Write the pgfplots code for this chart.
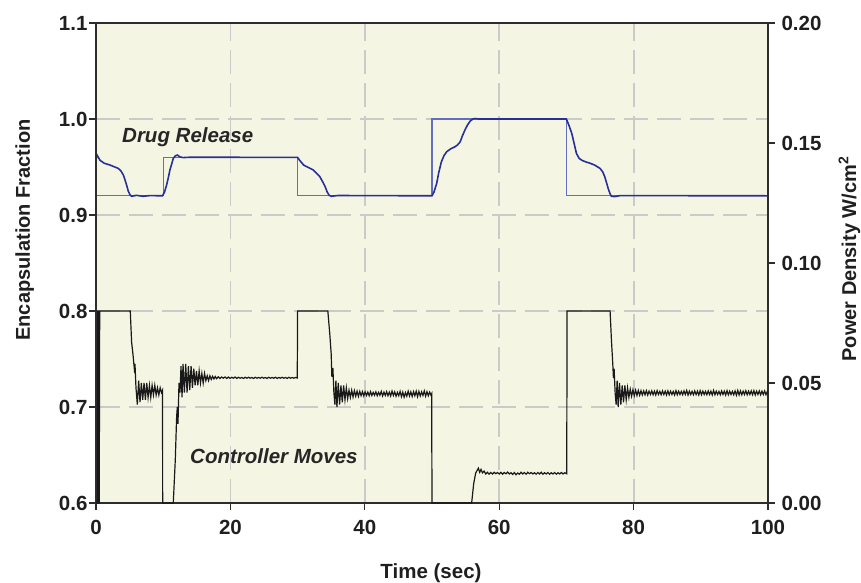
\documentclass[border=0pt]{standalone}
\usepackage{pgfplots}
\usepackage{pgfplotstable}
\pgfplotsset{compat=1.18}
\usepackage{fontspec}
\setmainfont{Liberation Sans}
\definecolor{cream}{RGB}{245,245,228}
\definecolor{gridgray}{RGB}{202,202,200}
\definecolor{resp}{RGB}{40,48,150}
\definecolor{setp}{RGB}{100,110,192}
\definecolor{ctrl}{RGB}{25,25,25}
\definecolor{spine}{RGB}{45,45,45}

\pgfplotstableread{
t p
0 0
0.2 0
0.25 0.08
0.35 0.08
0.4 0
0.48 0
0.55 0.08
5.1 0.08
5.3 0.067
5.5 0.062
5.7 0.056
5.8 0.058
5.95 0.048
6.15 0.041
6.35 0.051
6.55 0.042
6.75 0.050
6.95 0.043
7.15 0.050
7.35 0.043
7.55 0.050
7.75 0.044
7.95 0.049
8.15 0.044
8.35 0.049
8.55 0.045
8.75 0.049
8.95 0.045
9.15 0.048
9.35 0.045
9.55 0.048
9.75 0.046
9.9 0.047
9.92 0
11.5 0
11.8 0.018
12.0 0.036
12.1 0.040
12.2 0.033
12.35 0.050
12.5 0.046
12.65 0.057
12.8 0.044
12.95 0.058
13.15 0.046
13.35 0.058
13.55 0.046
13.75 0.057
13.95 0.047
14.15 0.057
14.35 0.048
14.55 0.056
14.75 0.049
14.95 0.055
15.15 0.049
15.35 0.055
15.55 0.050
15.75 0.054
15.95 0.050
16.15 0.054
16.35 0.051
16.55 0.053
16.75 0.051
16.95 0.053
17.15 0.0515
17.35 0.0528
17.55 0.0517
17.75 0.0527
17.95 0.0518
18.2 0.0526
18.45 0.0519
18.7 0.0525
18.95 0.0520
19.2 0.0525
19.45 0.0519
19.7 0.0525
19.95 0.0519
20.2 0.0524
20.45 0.0520
20.7 0.0525
20.95 0.0519
21.2 0.0524
21.45 0.0520
21.7 0.0523
21.95 0.0519
22.2 0.0524
22.45 0.0520
22.7 0.0524
22.95 0.0520
23.2 0.0523
23.45 0.0519
23.7 0.0524
23.95 0.0520
24.2 0.0523
24.45 0.0520
24.7 0.0524
24.95 0.0520
25.2 0.0523
25.45 0.0519
25.7 0.0524
25.95 0.0520
26.2 0.0523
26.45 0.0520
26.7 0.0524
26.95 0.0519
27.2 0.0523
27.45 0.0520
27.7 0.0524
27.95 0.0520
28.2 0.0523
28.45 0.0519
28.7 0.0524
28.95 0.0520
29.2 0.0523
29.45 0.0520
29.7 0.0523
29.95 0.0521
30.0 0.08
34.5 0.08
34.8 0.070
35.0 0.062
35.1 0.0526
35.25 0.0563
35.4 0.046
35.55 0.041
35.7 0.051
35.85 0.040
36.05 0.050
36.25 0.041
36.45 0.049
36.65 0.042
36.85 0.049
37.05 0.043
37.25 0.048
37.45 0.0435
37.65 0.047
37.85 0.0440
38.05 0.0470
38.25 0.0442
38.45 0.0468
38.65 0.0445
38.85 0.0466
39.05 0.0444
39.25 0.0465
39.45 0.0447
39.65 0.0464
39.85 0.0446
40.05 0.0463
40.25 0.0448
40.45 0.0462
40.65 0.0447
40.85 0.0464
41.05 0.0448
41.25 0.0461
41.45 0.0449
41.65 0.0463
41.85 0.0447
42.05 0.0461
42.25 0.0449
42.45 0.0465
42.65 0.0446
42.85 0.0462
43.05 0.0448
43.25 0.0464
43.45 0.0447
43.65 0.0462
43.85 0.0446
44.05 0.0466
44.25 0.0448
44.45 0.0463
44.65 0.0445
44.85 0.0461
45.05 0.0447
45.25 0.0465
45.45 0.0443
45.65 0.0462
45.85 0.0441
46.05 0.0460
46.25 0.0445
46.45 0.0466
46.65 0.0446
46.85 0.0463
47.05 0.0444
47.25 0.0464
47.45 0.0447
47.65 0.0466
47.85 0.0443
48.05 0.0465
48.25 0.0446
48.45 0.0463
48.65 0.0448
48.85 0.0467
49.05 0.0445
49.25 0.0464
49.45 0.0447
49.65 0.0462
49.85 0.0449
49.95 0.0455
50.0 0
55.9 0
56.2 0.008
56.5 0.0125
56.7 0.0135
56.9 0.0145
57.1 0.0128
57.3 0.0140
57.5 0.0126
57.75 0.0133
58.0 0.0121
58.25 0.0128
58.5 0.0120
58.75 0.0127
59.0 0.0121
59.25 0.0128
59.5 0.0122
59.75 0.0127
60.0 0.0121
60.25 0.0128
60.5 0.0120
60.75 0.0127
61.0 0.0122
61.25 0.0129
61.5 0.0121
61.75 0.0126
62.0 0.0119
62.25 0.0127
62.5 0.0118
62.75 0.0125
63.0 0.0120
63.25 0.0128
63.5 0.0121
63.75 0.0127
64.0 0.0120
64.25 0.0128
64.5 0.0122
64.75 0.0127
65.0 0.0121
65.25 0.0126
65.5 0.0120
65.75 0.0127
66.0 0.0121
66.25 0.0128
66.5 0.0120
66.75 0.0126
67.0 0.0121
67.25 0.0127
67.5 0.0120
67.75 0.0126
68.0 0.0121
68.25 0.0127
68.5 0.0120
68.75 0.0126
69.0 0.0121
69.25 0.0127
69.5 0.0121
69.75 0.0126
70.05 0.0122
70.1 0.08
76.5 0.08
76.7 0.068
76.9 0.058
77.0 0.052
77.1 0.056
77.25 0.046
77.4 0.041
77.55 0.051
77.7 0.040
77.9 0.050
78.1 0.041
78.3 0.049
78.5 0.042
78.7 0.049
78.9 0.043
79.1 0.048
79.3 0.044
79.5 0.0474
79.7 0.0445
79.9 0.0472
80.1 0.0447
80.3 0.0470
80.5 0.0448
80.7 0.0469
80.9 0.0449
81.1 0.0468
81.3 0.0450
81.5 0.0467
81.7 0.0451
81.9 0.0468
82.1 0.0450
82.3 0.0466
82.5 0.0452
82.7 0.0467
82.9 0.0451
83.1 0.0466
83.3 0.0450
83.5 0.0468
83.7 0.0452
83.9 0.0465
84.1 0.0451
84.3 0.0467
84.5 0.0452
84.7 0.0466
84.9 0.0450
85.1 0.0467
85.3 0.0451
85.5 0.0466
85.7 0.0452
85.9 0.0465
86.1 0.0450
86.3 0.0468
86.5 0.0451
86.7 0.0466
86.9 0.0452
87.1 0.0465
87.3 0.0451
87.5 0.0467
87.7 0.0452
87.9 0.0469
88.1 0.0450
88.3 0.0466
88.5 0.0452
88.7 0.0465
88.9 0.0451
89.1 0.0467
89.3 0.0452
89.5 0.0466
89.7 0.0450
89.9 0.0468
90.1 0.0451
90.3 0.0466
90.5 0.0452
90.7 0.0465
90.9 0.0451
91.1 0.0467
91.3 0.0452
91.5 0.0466
91.7 0.0450
91.9 0.0469
92.1 0.0451
92.3 0.0466
92.5 0.0452
92.7 0.0465
92.9 0.0451
93.1 0.0467
93.3 0.0452
93.5 0.0466
93.7 0.0450
93.9 0.0468
94.1 0.0451
94.3 0.0466
94.5 0.0452
94.7 0.0465
94.9 0.0451
95.1 0.0467
95.3 0.0449
95.5 0.0469
95.7 0.0450
95.9 0.0467
96.1 0.0451
96.3 0.0466
96.5 0.0452
96.7 0.0468
96.9 0.0451
97.1 0.0466
97.3 0.0452
97.5 0.0467
97.7 0.0451
97.9 0.0468
98.1 0.0450
98.3 0.0466
98.5 0.0452
98.7 0.0467
98.9 0.0451
99.1 0.0466
99.3 0.0452
99.5 0.0467
99.7 0.0451
99.9 0.0465
100 0.0459
}\ctrltable

\pgfplotsset{
  common/.style={
    scale only axis, width=672pt, height=480pt,
    xmin=0, xmax=100,
    axis line style={spine, line width=1.2pt},
    tick style={spine, line width=1.1pt},
    tick align=outside, major tick length=7pt,
    tick label style={font=\fontsize{20.5}{20.5}\selectfont\bfseries, text=black!88},
    /pgf/number format/assume math mode=true,
  }
}

\begin{document}
\begin{tikzpicture}
\begin{axis}[common,
  ymin=0.6, ymax=1.1,
  ytick={0.6,0.7,0.8,0.9,1.0,1.1},
  yticklabel style={xshift=2pt, /pgf/number format/.cd, fixed, fixed zerofill, precision=1},
  xticklabel style={yshift=-7pt},
  xtick={0,20,40,60,80,100},
  xtick pos=bottom, ytick pos=left,
  grid=major,
  major grid style={gridgray, line width=1.8pt, dash pattern=on 24pt off 9pt},
  axis background/.style={fill=cream},
]
\addplot[setp, line width=1.1pt] coordinates {
(0,0.92) (10,0.92) (10,0.96) (30,0.96) (30,0.92) (50,0.92) (50,1.0) (70,1.0) (70,0.92) (100,0.92)};
\addplot[resp, line width=1.6pt] coordinates {
(0,0.958) (0.15,0.9625) (0.6,0.957) (1.2,0.954) (2.1,0.952) (2.8,0.950) (3.3,0.9486) (3.7,0.946)
(4.07,0.9417) (4.3,0.937) (4.56,0.931) (4.8,0.925) (5.06,0.921) (5.3,0.9195) (6,0.9205) (7,0.9195)
(8,0.9202) (9.9,0.92) (10.2,0.924) (10.5,0.931) (10.8,0.940) (11,0.9469) (11.3,0.954) (11.5,0.959)
(11.8,0.9615) (12.1,0.9625) (12.5,0.9605) (13,0.9598) (14,0.9602) (30,0.96)
(30.3,0.957) (30.9,0.952) (31.6,0.9495) (32.3,0.947) (32.9,0.943) (33.3,0.940) (33.7,0.935)
(34.1,0.9295) (34.4,0.924) (34.7,0.9205) (35,0.9195) (36,0.9203) (50,0.92)
(50.3,0.924) (50.7,0.933) (51.0,0.944) (51.4,0.9555) (51.8,0.962) (52.2,0.966) (52.8,0.969)
(53.4,0.971) (53.8,0.973) (54.2,0.9763) (54.5,0.982) (54.9,0.9885) (55.3,0.994) (55.7,0.998)
(56.1,1.0) (56.4,1.0005) (57,1.0) (70,1.0)
(70.4,0.993) (70.8,0.985) (71.2,0.973) (71.5,0.964) (71.9,0.959) (72.3,0.957) (73.0,0.955)
(73.5,0.954) (74.2,0.952) (75,0.9486) (75.4,0.945) (75.7,0.940) (76.0,0.933) (76.2,0.928)
(76.5,0.922) (76.7,0.9195) (77.2,0.9192) (78,0.9202) (100,0.92)};
\end{axis}
\begin{axis}[common,
  ymin=0, ymax=0.2,
  ytick={0,0.05,0.1,0.15,0.2},
  yticklabel style={xshift=3pt, /pgf/number format/.cd, fixed, fixed zerofill, precision=2},
  ytick pos=right, xtick=\empty,
]
\addplot[ctrl, line width=1.2pt] table[x=t, y=p] {\ctrltable};
\end{axis}
\node[rotate=90, anchor=base, inner sep=0, text=black!88,
  font=\fontsize{20}{20}\selectfont\bfseries] at (-66pt,273pt) {Encapsulation Fraction};
\node[rotate=90, anchor=base, inner sep=0, text=black!88,
  font=\fontsize{20}{20}\selectfont\bfseries] at (760pt,244pt) {Power Density W/cm\textsuperscript{2}};
\node[anchor=base, inner sep=0, text=black!88,
  font=\fontsize{20.5}{20.5}\selectfont\bfseries] at (335pt,-75pt) {Time (sec)};
\node[anchor=base west, inner sep=0, text=black!85,
  font=\fontsize{20.5}{20.5}\selectfont\bfseries\itshape] at (26pt,360pt) {Drug Release};
\node[anchor=base west, inner sep=0, text=black!85,
  font=\fontsize{20.5}{20.5}\selectfont\bfseries\itshape] at (94pt,40pt) {Controller Moves};
\pgfresetboundingbox
\path[use as bounding box] (-96pt,-79pt) rectangle (765pt,503pt);
\end{tikzpicture}
\end{document}
